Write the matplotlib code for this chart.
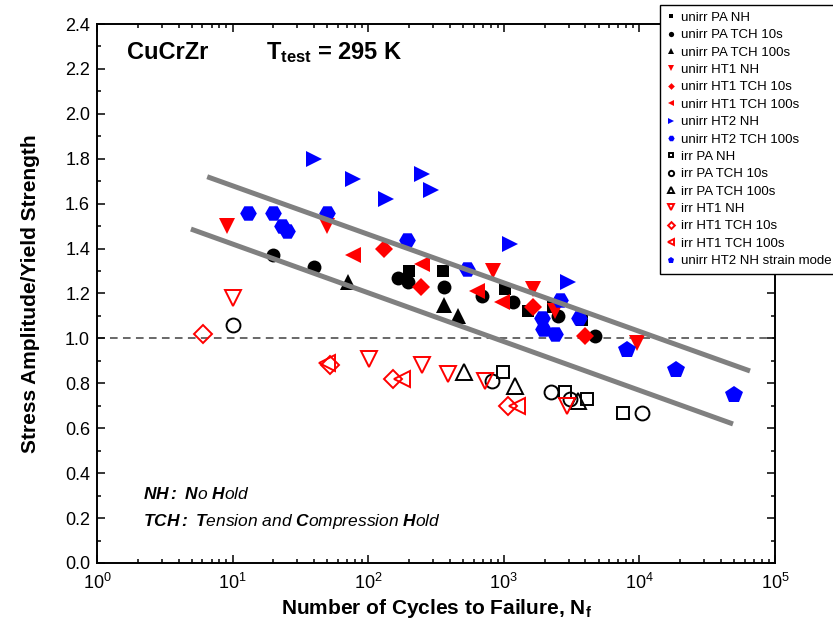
import matplotlib.pyplot as plt
from matplotlib.ticker import MultipleLocator, LogLocator, NullFormatter

plt.rcParams['font.family'] = ['Liberation Sans', 'DejaVu Sans']
plt.rcParams['mathtext.fontset'] = 'custom'
plt.rcParams['mathtext.rm'] = 'Liberation Sans'
plt.rcParams['mathtext.it'] = 'Liberation Sans:italic'
plt.rcParams['mathtext.bf'] = 'Liberation Sans:bold'
plt.rcParams['mathtext.bfit'] = 'Liberation Sans:italic:bold'

# cycles to failure / normalised stress amplitude, per test series
unirr_pa_nh_n = [200, 356, 1020, 1510, 2300, 3770]
unirr_pa_nh_s = [1.30, 1.30, 1.22, 1.12, 1.14, 1.08]

unirr_pa_tch10_n = [20, 40, 166, 196, 362, 690, 1170, 2510, 4700]
unirr_pa_tch10_s = [1.37, 1.32, 1.27, 1.25, 1.23, 1.19, 1.16, 1.10, 1.01]

unirr_pa_tch100_n = [71, 362, 459]
unirr_pa_tch100_s = [1.25, 1.15, 1.10]

unirr_ht1_nh_n = [9.1, 50, 832, 1640, 2390, 9600]
unirr_ht1_nh_s = [1.50, 1.50, 1.30, 1.22, 1.12, 0.98]

unirr_ht1_tch10_n = [131, 245, 1640, 3970]
unirr_ht1_tch10_s = [1.40, 1.23, 1.14, 1.01]

unirr_ht1_tch100_n = [77, 249, 634, 970]
unirr_ht1_tch100_s = [1.37, 1.33, 1.21, 1.16]

unirr_ht2_nh_n = [40, 77, 135, 249, 290, 1110, 2970]
unirr_ht2_nh_s = [1.80, 1.71, 1.62, 1.73, 1.66, 1.42, 1.25]

unirr_ht2_tch100_n = [13, 20, 23, 25, 50, 193, 535, 1910, 1950, 2390, 2600, 3590]
unirr_ht2_tch100_s = [1.56, 1.56, 1.50, 1.48, 1.56, 1.44, 1.31, 1.09, 1.04, 1.02, 1.17, 1.09]

irr_pa_nh_n = [986, 2830, 4110, 7570]
irr_pa_nh_s = [0.85, 0.76, 0.73, 0.67]

irr_pa_tch10_n = [10, 818, 2230, 3080, 10440]
irr_pa_tch10_s = [1.06, 0.81, 0.76, 0.73, 0.67]

irr_pa_tch100_n = [509, 1210, 3530]
irr_pa_tch100_s = [0.85, 0.79, 0.72]

irr_ht1_nh_n = [10, 101, 249, 388, 727, 2920]
irr_ht1_nh_s = [1.18, 0.91, 0.88, 0.84, 0.81, 0.70]

irr_ht1_tch10_n = [6.05, 52, 152, 1075]
irr_ht1_tch10_s = [1.02, 0.88, 0.82, 0.70]

irr_ht1_tch100_n = [50, 178, 1250]
irr_ht1_tch100_s = [0.89, 0.82, 0.70]

unirr_ht2_strain_n = [8110, 18600, 49850]
unirr_ht2_strain_s = [0.95, 0.86, 0.75]

# scatter band
band_upper_n = [6.5, 65400]
band_upper_s = [1.72, 0.855]
band_lower_n = [4.93, 49000]
band_lower_s = [1.487, 0.619]

RED = '#ff0000'
BLUE = '#0000ff'

series = [
    ("unirr PA NH", unirr_pa_nh_n, unirr_pa_nh_s, 's', 'k', True, 9),
    ("unirr PA TCH 10s", unirr_pa_tch10_n, unirr_pa_tch10_s, 'o', 'k', True, 10),
    ("unirr PA TCH 100s", unirr_pa_tch100_n, unirr_pa_tch100_s, '^', 'k', True, 12),
    ("unirr HT1 NH", unirr_ht1_nh_n, unirr_ht1_nh_s, 'v', RED, True, 12),
    ("unirr HT1 TCH 10s", unirr_ht1_tch10_n, unirr_ht1_tch10_s, 'D', RED, True, 9),
    ("unirr HT1 TCH 100s", unirr_ht1_tch100_n, unirr_ht1_tch100_s, '<', RED, True, 12),
    ("unirr HT2 NH", unirr_ht2_nh_n, unirr_ht2_nh_s, '>', BLUE, True, 12),
    ("unirr HT2 TCH 100s", unirr_ht2_tch100_n, unirr_ht2_tch100_s, 'H', BLUE, True, 12),
    ("irr PA NH", irr_pa_nh_n, irr_pa_nh_s, 's', 'k', False, 9),
    ("irr PA TCH 10s", irr_pa_tch10_n, irr_pa_tch10_s, 'o', 'k', False, 10),
    ("irr PA TCH 100s", irr_pa_tch100_n, irr_pa_tch100_s, '^', 'k', False, 12),
    ("irr HT1 NH", irr_ht1_nh_n, irr_ht1_nh_s, 'v', RED, False, 12),
    ("irr HT1 TCH 10s", irr_ht1_tch10_n, irr_ht1_tch10_s, 'D', RED, False, 9),
    ("irr HT1 TCH 100s", irr_ht1_tch100_n, irr_ht1_tch100_s, '<', RED, False, 12),
    ("unirr HT2 NH strain mode", unirr_ht2_strain_n, unirr_ht2_strain_s, 'p', BLUE, True, 13),
]

fig = plt.figure(figsize=(8.33, 6.35), dpi=100)
ax = fig.add_axes([0.1164, 0.1134, 0.8140, 0.8488])

ax.axhline(1.0, color='#404040', lw=1.1, ls=(0, (5, 3.5)), zorder=1)

handles = []
for label, n, s, m, c, filled, ms in series:
    h, = ax.plot(n, s, ls='none', marker=m, ms=ms,
                 markerfacecolor=c if filled else 'none',
                 markeredgecolor=c, markeredgewidth=0 if filled else 1.4,
                 label=label, zorder=2)
    handles.append(h)

ax.plot(band_upper_n, band_upper_s, color='#808080', lw=3.6, solid_capstyle='butt', zorder=3)
ax.plot(band_lower_n, band_lower_s, color='#808080', lw=3.6, solid_capstyle='butt', zorder=3)

ax.set_xscale('log')
ax.set_xlim(1, 1e5)
ax.set_ylim(0, 2.4)
ax.yaxis.set_major_locator(MultipleLocator(0.2))
ax.yaxis.set_minor_locator(MultipleLocator(0.1))
ax.yaxis.set_major_formatter(plt.FormatStrFormatter('%.1f'))
ax.xaxis.set_major_locator(LogLocator(base=10, numticks=10))
ax.xaxis.set_minor_locator(LogLocator(base=10, subs=range(2, 10), numticks=10))
ax.xaxis.set_minor_formatter(NullFormatter())

ax.tick_params(which='both', direction='in', top=True, right=True, width=1.1, labelsize=13)
ax.tick_params(which='major', length=5.5, pad=5)
ax.tick_params(axis='x', which='major', pad=7)
ax.tick_params(which='minor', length=3)
for sp in ax.spines.values():
    sp.set_linewidth(1.4)

ax.set_xlabel(r"Number of Cycles to Failure, $\mathbf{N_f}$", fontsize=15, fontweight='bold', labelpad=3)
ax.set_ylabel("Stress Amplitude/Yield Strength", fontsize=15, fontweight='bold', labelpad=18)

ax.text(0.045, 0.935, "CuCrZr", transform=ax.transAxes, fontsize=17, fontweight='bold', va='baseline')
ax.text(0.249, 0.935, r"$\mathbf{T_{test}}$ = 295 K", transform=ax.transAxes, fontsize=17,
        fontweight='bold', va='baseline')

ax.text(0.068, 0.118, r"$\mathbfit{NH}\mathbfit{:}\ \mathbfit{N}\mathit{o}\ \mathbfit{H}\mathit{old}$",
        transform=ax.transAxes, fontsize=12.5, va='baseline')
ax.text(0.068, 0.068,
        r"$\mathbfit{TCH:}\ \mathbfit{T}\mathit{ension\ and}\ \mathbfit{C}\mathit{ompression}\ \mathbfit{H}\mathit{old}$",
        transform=ax.transAxes, fontsize=12.5, va='baseline')

leg = fig.legend(handles=handles, loc='upper left', bbox_to_anchor=(660 / 833, 1 - 5 / 635),
                 fontsize=9.5, markerscale=0.38, labelspacing=0.39, handlelength=0.6,
                 handletextpad=0.5, borderpad=0.5, fancybox=False, framealpha=1,
                 edgecolor='k', borderaxespad=0)
leg.get_frame().set_linewidth(1.0)

fig.savefig("out.png", dpi=100)
